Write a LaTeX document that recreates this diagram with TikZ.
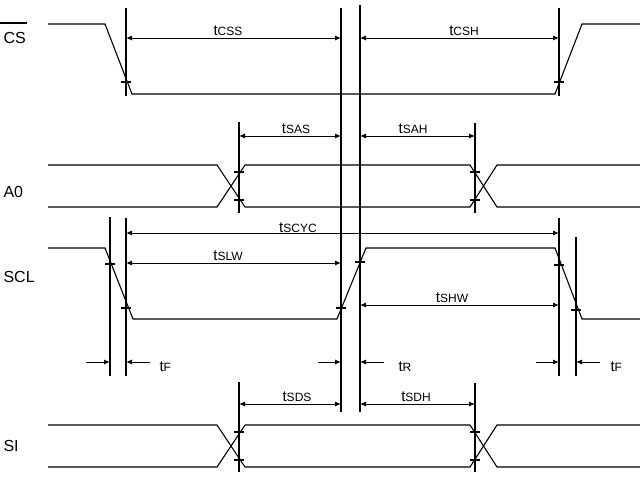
\documentclass[tikz,border=0pt]{standalone}
\usepackage{fontspec}
\setmainfont{Liberation Sans}
\usetikzlibrary{arrows.meta}
\begin{document}
\begin{tikzpicture}[x=1pt,y=-1pt,line width=1.1pt,
  sig/.style={line width=1.1pt},
  dim/.style={line width=1pt,-{Latex[length=6pt,width=5pt]}},
  ddim/.style={line width=1pt,{Latex[length=6pt,width=5pt]}-{Latex[length=6pt,width=5pt]}},
  lab/.style={font=\fontsize{16}{18}\selectfont,inner sep=0pt},
  tl/.style={font=\fontsize{15}{17}\selectfont,inner sep=0pt,anchor=base}]
\newcommand{\tsub}[1]{t{\fontsize{12}{14}\selectfont #1}}
\useasboundingbox (0,0) rectangle (640,480);
% verticals
\draw (126,8) -- (126,96); \draw (126,218) -- (126,376);
\draw (110,217) -- (110,376);
\draw (341,8) -- (341,412); \draw (360,5) -- (360,412);
\draw (239,122) -- (239,213); \draw (239,382) -- (239,472);
\draw (475,123) -- (475,213); \draw (475,383) -- (475,472);
\draw (559,8) -- (559,96); \draw (559,218) -- (559,376);
\draw (576,237) -- (576,376);
% CS
\node[lab,anchor=west] (cs) at (3,38) {CS};
\draw (0,23) -- (27,23);
\draw[sig] (48,24) -- (105,24) -- (132,94) -- (555,94) -- (582,24) -- (640,24);
\draw (121,82) -- (131,82); \draw (554,82) -- (564,82);
\draw[ddim] (126,38) -- (341,38); \node[tl] (tcss) at (228,35) {\tsub{CSS}};
\draw[ddim] (360,38) -- (559,38); \node[tl] (tcsh) at (464,35) {\tsub{CSH}};
% A0
\node[lab,anchor=west] (a0) at (3,192) {A0};
\draw (48,165) -- (217,165) -- (245,207) -- (470,207) -- (497,165) -- (640,165);
\draw (48,207) -- (217,207) -- (245,165) -- (470,165) -- (497,207) -- (640,207);
\foreach \x in {239,475}{\draw (\x-5,172) -- (\x+5,172); \draw (\x-5,200) -- (\x+5,200);}
\draw[ddim] (239,136) -- (341,136); \node[tl] (tsas) at (296,133) {\tsub{SAS}};
\draw[ddim] (360,136) -- (475,136); \node[tl] (tsah) at (413,133) {\tsub{SAH}};
% SCL
\node[lab,anchor=west] (scl) at (3,277) {SCL};
\draw (48,248) -- (105,248) -- (133,319) -- (337,319) -- (366,248) -- (555,248) -- (582,319) -- (640,319);
\draw (105,264) -- (115,264); \draw (121,308) -- (131,308);
\draw (336,308) -- (346,308); \draw (355,262) -- (365,262);
\draw (554,265) -- (564,265); \draw (571,310) -- (581,310);
\draw[ddim] (126,233) -- (559,233); \node[tl] (tscyc) at (298,232) {\tsub{SCYC}};
\draw[ddim] (126,263) -- (341,263); \node[tl] (tslw) at (228,260) {\tsub{SLW}};
\draw[ddim] (360,305) -- (559,305); \node[tl] (tshw) at (452,302) {\tsub{SHW}};
% tF, tR
\draw[dim] (86,362) -- (110,362); \draw[dim] (150,362) -- (126,362);
\node[tl,anchor=west] (tf1) at (159,367) {\tsub{F}};
\draw[dim] (318,362) -- (341,362); \draw[dim] (384,362) -- (360,362);
\node[tl,anchor=west] (tr) at (398,367) {\tsub{R}};
\draw[dim] (536,362) -- (559,362); \draw[dim] (600,362) -- (576,362);
\node[tl,anchor=west] (tf2) at (610,367) {\tsub{F}};
% SI
\node[lab,anchor=west] (si) at (3,446) {SI};
\draw (48,425) -- (217,425) -- (245,467) -- (470,467) -- (497,425) -- (640,425);
\draw (48,467) -- (217,467) -- (245,425) -- (470,425) -- (497,467) -- (640,467);
\foreach \x in {239,475}{\draw (\x-5,432) -- (\x+5,432); \draw (\x-5,460) -- (\x+5,460);}
\draw[ddim] (239,404) -- (341,404); \node[tl] (tsds) at (297,401) {\tsub{SDS}};
\draw[ddim] (360,404) -- (475,404); \node[tl] (tsdh) at (416,401) {\tsub{SDH}};
\end{tikzpicture}
\end{document}
